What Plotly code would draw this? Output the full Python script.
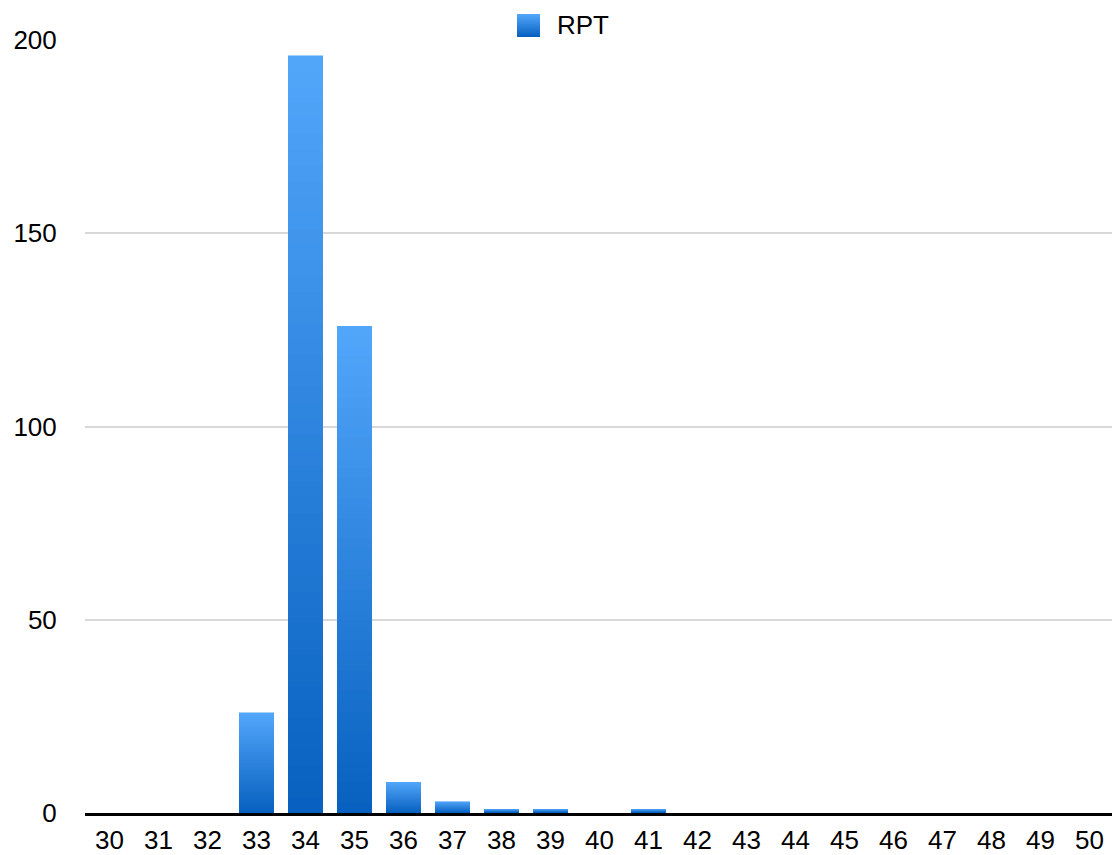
import plotly.graph_objects as go

# Histogram data
categories = [str(v) for v in range(30, 51)]
counts = [0, 0, 0, 26, 196, 126, 8, 3, 1, 1, 0, 1, 0, 0, 0, 0, 0, 0, 0, 0, 0]
series_name = "RPT"
y_ticks = [0, 50, 100, 150, 200]

# Vertical gradient: light at the top of each bar, dark at its base
TOP = (82, 166, 250)
BOTTOM = (8, 97, 192)
STEPS = 48


def mix(t):
    r = [round(TOP[i] + (BOTTOM[i] - TOP[i]) * t) for i in range(3)]
    return f"rgb({r[0]},{r[1]},{r[2]})"


FONT = "Liberation Sans, Arial, Helvetica, sans-serif"
FSIZE = 26

# Plot area geometry (pixels)
L_LEFT, L_W = 85, 1027
P_TOP, P_H = 40, 773
CAT_PX = 49          # pixels per category, keeps bar edges on whole pixels
BAR_PX = 35

fig = go.Figure()
# Overlaid bars: each layer covers a smaller lower fraction of the bar with a darker tone
for k in range(STEPS):
    frac = (STEPS - k) / STEPS
    fig.add_trace(go.Bar(
        x=categories,
        y=[c * frac for c in counts],
        marker=dict(color=mix(k / (STEPS - 1)), line=dict(width=0)),
        name=series_name,
        showlegend=False,
        hoverinfo="skip" if k else "x+y",
    ))


def px_x(px):
    return (px - L_LEFT) / L_W


def px_y(py):
    return (P_TOP + P_H - py) / P_H


# Custom legend: gradient square + label
sq_x0, sq_x1, sq_y0, sq_y1 = 517, 540, 14, 37
n_strips = sq_y1 - sq_y0
shapes = []
for i in range(n_strips):
    shapes.append(dict(
        type="rect", xref="paper", yref="paper",
        x0=px_x(sq_x0), x1=px_x(sq_x1),
        y0=px_y(sq_y0 + i + 1), y1=px_y(sq_y0 + i),
        fillcolor=mix(i / (n_strips - 1)), line=dict(width=0), layer="above",
    ))

fig.update_layout(
    width=1112, height=855,
    margin=dict(l=L_LEFT, r=1112 - L_LEFT - L_W, t=P_TOP, b=855 - P_TOP - P_H),
    paper_bgcolor="white", plot_bgcolor="white",
    barmode="overlay",
    bargap=1 - BAR_PX / CAT_PX,
    showlegend=False,
    font=dict(family=FONT, size=FSIZE, color="black"),
    shapes=shapes,
    annotations=[dict(
        x=px_x(555), y=px_y(25.5), xref="paper", yref="paper",
        text=series_name, showarrow=False, xanchor="left", yanchor="middle",
        font=dict(family=FONT, size=FSIZE, color="black"),
    )],
    xaxis=dict(
        type="category", categoryorder="array", categoryarray=categories,
        range=[-0.5, -0.5 + L_W / CAT_PX],
        automargin=False,
        showline=True, linecolor="black", linewidth=2.5,
        ticks="outside", ticklen=2, tickcolor="rgba(0,0,0,0)",
        showgrid=False, zeroline=False,
        tickfont=dict(family=FONT, size=FSIZE, color="black"),
    ),
    yaxis=dict(
        range=[0, 200], tickvals=y_ticks, automargin=False,
        showgrid=True, gridcolor="#d8d8d8", gridwidth=1.5,
        zeroline=False, showline=False,
        ticks="outside", ticklen=22, tickcolor="rgba(0,0,0,0)",
        tickfont=dict(family=FONT, size=FSIZE, color="black"),
    ),
)

fig.write_html("out.html")
